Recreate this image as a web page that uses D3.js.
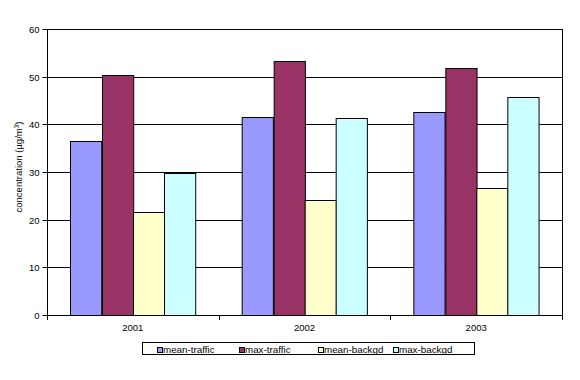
<!DOCTYPE html>
<html><head><meta charset="utf-8">
<script src="https://cdn.jsdelivr.net/npm/d3@7"></script>
<style>body{margin:0;background:#fff}svg{display:block}text{font-family:"Liberation Sans",Arial,sans-serif;fill:#000}</style>
</head><body><svg id="c" width="580" height="380"></svg>
<script>
const categories = ["2001", "2002", "2003"];
const seriesNames = ["mean-traffic", "max-traffic", "mean-backgd", "max-backgd"];
const meanTraffic = [36.6, 41.5, 42.5];
const maxTraffic = [50.4, 53.2, 51.9];
const meanBackgd = [21.7, 24.2, 26.6];
const maxBackgd = [29.8, 41.3, 45.7];
const colors = ["#9999FF", "#993366", "#FFFFCC", "#CCFFFF"];
const yTicks = [0, 10, 20, 30, 40, 50, 60];

const values = [meanTraffic, maxTraffic, meanBackgd, maxBackgd];
const rows = categories.map((c, i) => ({cat: c, vals: seriesNames.map((s, j) => ({s, v: values[j][i], k: j}))}));

const svg = d3.select("#c");
const L = 47, T = 29, R = 562, B = 315;
const x0 = d3.scaleBand().domain(categories).range([L, R]).padding(0);
const x1 = d3.scaleBand().domain(seriesNames).range([0, x0.bandwidth()]).paddingInner(0).paddingOuter(0.75);
const y = d3.scaleLinear().domain([0, 60]).range([B, T]);

// gridlines
svg.append("g").selectAll("line").data(yTicks.filter(t => t > 0)).join("line")
  .attr("x1", L).attr("x2", R).attr("y1", d => Math.round(y(d)) + 0.5).attr("y2", d => Math.round(y(d)) + 0.5)
  .attr("stroke", "#000").attr("stroke-width", 1);
// right border
svg.append("line").attr("x1", R + 0.5).attr("x2", R + 0.5).attr("y1", T).attr("y2", B).attr("stroke", "#000");

// bars
const g = svg.append("g").selectAll("g").data(rows).join("g")
  .attr("transform", d => `translate(${x0(d.cat)},0)`);
g.selectAll("rect").data(d => d.vals).join("rect")
  .attr("x", d => Math.round(x1(d.s)) + 0.5)
  .attr("width", x1.bandwidth())
  .attr("y", d => Math.round(y(d.v)) + 0.5)
  .attr("height", d => B - Math.round(y(d.v)))
  .attr("fill", d => colors[d.k]).attr("stroke", "#000").attr("stroke-width", 1);

// y axis
const ya = d3.axisLeft(y).tickValues(yTicks).tickSize(5).tickPadding(3);
const yg = svg.append("g").attr("transform", `translate(${L + 0.5},0.5)`).call(ya);
yg.select(".domain").attr("stroke", "#000").attr("d", `M0,${T - 0.5}V${B}`);
yg.selectAll("text").style("font-size", "9.5px").attr("dy", "0.35em");
yg.selectAll(".tick").attr("transform", d => `translate(0,${Math.round(y(d))})`);

// x axis
const xBound = d3.scaleLinear().domain([0, 3]).range([L, R]);
svg.append("line").attr("x1", L).attr("x2", R + 1).attr("y1", B + 0.5).attr("y2", B + 0.5).attr("stroke", "#000");
svg.append("g").selectAll("line").data([0, 1, 2, 3]).join("line")
  .attr("x1", d => Math.round(xBound(d)) + 0.5).attr("x2", d => Math.round(xBound(d)) + 0.5)
  .attr("y1", B).attr("y2", B + 5).attr("stroke", "#000");
svg.append("g").selectAll("text").data(categories).join("text")
  .attr("x", d => x0(d) + x0.bandwidth() / 2).attr("y", 331)
  .attr("text-anchor", "middle").style("font-size", "9.5px").text(d => d);

// y title
const yt = svg.append("text").attr("transform", "translate(22,167) rotate(-90)")
  .attr("text-anchor", "middle").style("font-size", "9.5px");
yt.append("tspan").text("concentration (µg/m");
yt.append("tspan").attr("dy", -3).style("font-size", "6.5px").text("3");
yt.append("tspan").attr("dy", 3).text(")");

// legend
const lg = svg.append("g");
lg.append("rect").attr("x", 142.5).attr("y", 342.5).attr("width", 332).attr("height", 12)
  .attr("fill", "#fff").attr("stroke", "#000");
const lx = [157, 239, 318, 393];
const items = lg.selectAll("g").data(seriesNames).join("g")
  .attr("transform", (d, i) => `translate(${lx[i]},0)`);
items.append("rect").attr("x", 0.5).attr("y", 347.5).attr("width", 5).attr("height", 5)
  .attr("fill", (d, i) => colors[i]).attr("stroke", "#000");
items.append("text").attr("x", 6).attr("y", 352.5).style("font-size", "9.8px").text(d => d);
</script></body></html>
